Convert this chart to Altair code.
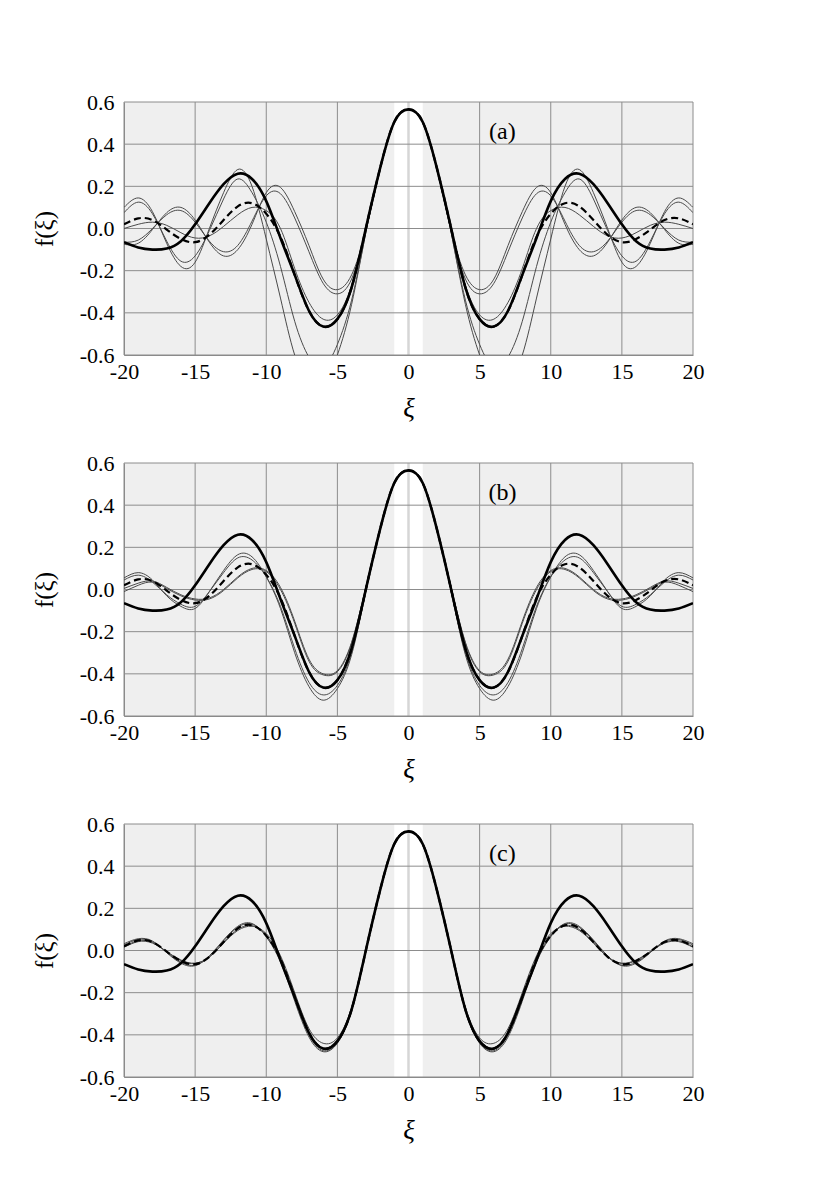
import altair as alt
import pandas as pd

# x grid for the half-curves (curves are symmetric about 0)
X_HALF = list(range(0, 21))
X_TICKS = [-20, -15, -10, -5, 0, 5, 10, 15, 20]
Y_TICKS = [-0.6, -0.4, -0.2, 0.0, 0.2, 0.4, 0.6]
PANEL_LABELS = ["(a)", "(b)", "(c)"]

# thick solid curve (same in every panel), values at x = 0..20
THICK = [0.565, 0.505, 0.285, 0.0, -0.28, -0.43, -0.465, -0.39, -0.22, -0.045, 0.13,
         0.235, 0.26, 0.21, 0.12, 0.02, -0.06, -0.095, -0.10, -0.09, -0.065]
# dashed curve (same in every panel)
DASHED = [0.565, 0.505, 0.285, 0.0, -0.28, -0.43, -0.465, -0.39, -0.22, -0.04, 0.07,
          0.12, 0.105, 0.04, -0.03, -0.065, -0.05, -0.005, 0.04, 0.048, 0.02]

# panel (a) thin curves
A_Q1 = [0.565, 0.505, 0.285, -0.02, -0.36, -0.60, -0.74, -0.73, -0.60, -0.33, -0.05,
        0.20, 0.28, 0.17, 0.0, -0.16, -0.18, -0.07, 0.08, 0.145, 0.10]
A_Q2 = [0.565, 0.505, 0.285, -0.02, -0.34, -0.55, -0.66, -0.61, -0.44, -0.18, 0.03,
        0.17, 0.235, 0.14, -0.01, -0.13, -0.155, -0.06, 0.07, 0.125, 0.075]
A_P1 = [0.565, 0.505, 0.28, -0.01, -0.22, -0.29, -0.24, -0.08, 0.08, 0.195, 0.17,
        0.02, -0.10, -0.13, -0.065, 0.04, 0.10, 0.075, -0.005, -0.07, -0.075]
A_P2 = [0.565, 0.505, 0.28, -0.01, -0.24, -0.31, -0.26, -0.11, 0.05, 0.165, 0.155,
        0.035, -0.08, -0.11, -0.06, 0.03, 0.085, 0.065, 0.0, -0.055, -0.065]
A_R = [0.565, 0.505, 0.285, -0.005, -0.27, -0.41, -0.43, -0.35, -0.19, 0.0, 0.085,
       0.10, 0.065, 0.01, -0.035, -0.045, -0.02, 0.015, 0.03, 0.02, 0.0]

# panel (b) thin curves
B_1A = [0.565, 0.505, 0.285, -0.01, -0.31, -0.47, -0.525, -0.46, -0.30, -0.09, 0.06,
        0.155, 0.165, 0.09, -0.01, -0.09, -0.08, -0.03, 0.045, 0.08, 0.055]
B_1B = [0.565, 0.505, 0.285, -0.01, -0.30, -0.455, -0.50, -0.44, -0.28, -0.08, 0.06,
        0.14, 0.15, 0.08, -0.01, -0.08, -0.07, -0.025, 0.035, 0.068, 0.045]
B_2A = [0.565, 0.505, 0.285, 0.01, -0.25, -0.385, -0.40, -0.33, -0.15, 0.01, 0.09,
        0.10, 0.06, 0.0, -0.04, -0.045, -0.025, 0.01, 0.04, 0.03, 0.005]
B_2B = [0.565, 0.505, 0.285, 0.01, -0.255, -0.39, -0.405, -0.34, -0.16, 0.0, 0.085,
        0.095, 0.055, -0.005, -0.045, -0.05, -0.03, 0.005, 0.035, 0.02, -0.01]

# panel (c) thin curves
C_1 = [0.565, 0.505, 0.285, 0.0, -0.27, -0.415, -0.44, -0.37, -0.20, -0.025, 0.08,
       0.115, 0.095, 0.035, -0.03, -0.06, -0.045, -0.005, 0.035, 0.042, 0.015]
C_2 = [0.565, 0.505, 0.285, 0.0, -0.285, -0.44, -0.48, -0.41, -0.24, -0.055, 0.065,
       0.128, 0.115, 0.05, -0.025, -0.072, -0.06, -0.01, 0.045, 0.056, 0.032]
C_3 = [0.565, 0.505, 0.285, 0.0, -0.283, -0.437, -0.475, -0.40, -0.23, -0.05, 0.068,
       0.125, 0.11, 0.045, -0.028, -0.07, -0.055, -0.008, 0.042, 0.052, 0.026]
C_4 = [0.565, 0.505, 0.285, 0.0, -0.28, -0.432, -0.468, -0.392, -0.222, -0.042, 0.072,
       0.118, 0.1, 0.038, -0.032, -0.062, -0.048, -0.006, 0.038, 0.046, 0.018]

PANELS = [
    {"label": "(a)", "thin": [A_Q1, A_Q2, A_P1, A_P2, A_R]},
    {"label": "(b)", "thin": [B_1A, B_1B, B_2A, B_2B]},
    {"label": "(c)", "thin": [C_1, C_2, C_3, C_4]},
]


def mirror(vals):
    xs = [-x for x in X_HALF[:0:-1]] + X_HALF
    ys = vals[:0:-1] + vals
    return xs, ys


def frame(name, vals):
    xs, ys = mirror(vals)
    return pd.DataFrame({"x": xs, "y": ys, "s": name})


W, H = 569, 253
FONT = "Liberation Serif"
xscale = alt.Scale(domain=[-20, 20], nice=False, zero=False)
yscale = alt.Scale(domain=[-0.6, 0.6], nice=False, zero=False)

xaxis = alt.Axis(values=X_TICKS, grid=False, ticks=False, domainColor="#888888",
                 labelFont=FONT, labelFontSize=22, labelColor="black", labelPadding=6,
                 labelFlush=False, labelOverlap=False,
                 labelExpr="(datum.value < 0 ? '-' : '') + format(abs(datum.value), 'd')",
                 title="ξ", titleFont=FONT, titleFontSize=27, titleFontStyle="italic",
                 titleFontWeight="normal", titlePadding=13, titleColor="black")
yaxis = alt.Axis(values=Y_TICKS, grid=False, ticks=False, domainColor="#888888",
                 labelFont=FONT, labelFontSize=22, labelColor="black", labelPadding=10,
                 labelFlush=False, labelOverlap=False,
                 labelExpr="(datum.value < -0.001 ? '-' : '') + format(abs(datum.value), '.1f')",
                 title="f(ξ)", titleFont=FONT, titleFontSize=25, titleFontWeight="normal",
                 titlePadding=22, titleColor="black")


def panel(p):
    thin = pd.concat([frame(f"t{i}", v) for i, v in enumerate(p["thin"])])
    dashed = frame("dashed", DASHED)
    thick = frame("thick", THICK)
    xt = pd.DataFrame({"x": X_TICKS})
    yt = pd.DataFrame({"y": Y_TICKS})

    band = alt.Chart(pd.DataFrame({"a": [-1], "b": [1]})).mark_rect(color="white").encode(
        x=alt.X("a:Q", scale=xscale, axis=xaxis), x2="b:Q",
        y=alt.value(0), y2=alt.value(H))
    vgrid = alt.Chart(xt).transform_filter("datum.x != 0").mark_rule(
        color="#8c8c8c", strokeWidth=1).encode(x=alt.X("x:Q", scale=xscale))
    zline = alt.Chart(xt).transform_filter("datum.x == 0").mark_rule(
        color="#d6d6d6", strokeWidth=2.5).encode(x=alt.X("x:Q", scale=xscale))
    hgrid = alt.Chart(yt).mark_rule(color="#8c8c8c", strokeWidth=1).encode(
        y=alt.Y("y:Q", scale=yscale, axis=yaxis))
    thin_l = alt.Chart(thin).mark_line(interpolate="natural", clip=True, color="#4a4a4a",
                                       strokeWidth=1).encode(
        x=alt.X("x:Q", scale=xscale), y=alt.Y("y:Q", scale=yscale), detail="s:N")
    dash_l = alt.Chart(dashed).mark_line(interpolate="natural", clip=True, color="black",
                                         strokeWidth=2.2, strokeDash=[7, 4]).encode(
        x=alt.X("x:Q", scale=xscale), y=alt.Y("y:Q", scale=yscale))
    thick_l = alt.Chart(thick).mark_line(interpolate="natural", clip=True, color="black",
                                         strokeWidth=2.6).encode(
        x=alt.X("x:Q", scale=xscale), y=alt.Y("y:Q", scale=yscale))
    lab = alt.Chart(pd.DataFrame({"x": [6.6], "y": [0.46], "t": [p["label"]]})).mark_text(
        font=FONT, fontSize=24, color="black").encode(
        x=alt.X("x:Q", scale=xscale), y=alt.Y("y:Q", scale=yscale), text="t:N")
    return alt.layer(band, vgrid, zline, hgrid, thin_l, dash_l, thick_l, lab).properties(
        width=W, height=H)


chart = alt.vconcat(*[panel(p) for p in PANELS], spacing=31).properties(
    padding={"left": 24, "top": 83, "right": 5, "bottom": 5}
).configure_view(fill="#efefef", stroke=None)

chart.save("out.html", embed_options={"renderer": "svg", "actions": False})
